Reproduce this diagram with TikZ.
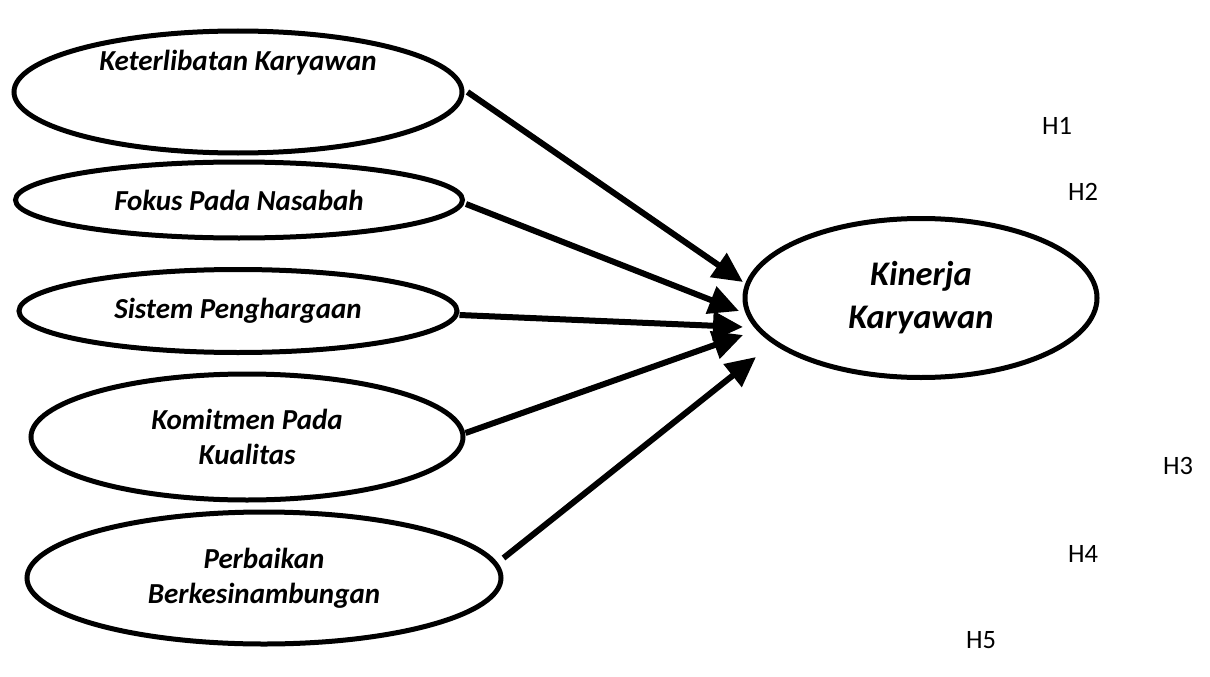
\documentclass[tikz,border=0pt]{standalone}
\usepackage{fontspec}
\setmainfont{Carlito}
\usetikzlibrary{shapes.geometric,arrows.meta}
\tikzset{
  varell/.style={ellipse, draw=black, line width=5pt, inner sep=0pt, align=center,
    font=\fontsize{29}{35}\selectfont\bfseries\itshape},
  bigell/.style={ellipse, draw=black, line width=5pt, inner sep=0pt, align=center,
    font=\fontsize{34.5}{43}\selectfont\bfseries\itshape},
  varlabel/.style={inner sep=0pt, font=\fontsize{29}{35}\selectfont\bfseries\itshape},
  hyp/.style={inner sep=0pt, font=\fontsize{26.5}{30}\selectfont},
  link/.style={line width=6pt, -{Triangle[length=30pt,width=28pt]}}
}
\begin{document}
\begin{tikzpicture}[x=1pt,y=-1pt]
\useasboundingbox (0,0) rectangle (1210,677);
% exogenous variables
\node[varell, minimum width=448pt, minimum height=122pt] (e1) at (238,92) {};
\node[varlabel] (l1) at (238,63) {Keterlibatan Karyawan};
\node[varell, minimum width=447pt, minimum height=76pt] (e2) at (239,200) {Fokus Pada Nasabah};
\node[varell, minimum width=438pt, minimum height=83pt] (e3) at (238,311) {Sistem Penghargaan};
\node[varell, minimum width=432pt, minimum height=126pt] (e4) at (247,437) {Komitmen Pada\\Kualitas};
\node[varell, minimum width=474pt, minimum height=132pt] (e5) at (264,578) {Perbaikan\\Berkesinambungan};
% endogenous variable
\node[bigell, minimum width=352pt, minimum height=159pt] (k) at (921,298) {Kinerja\\Karyawan};
% arrow tips
\coordinate (t1) at (743,282);
\coordinate (t2) at (739,311);
\coordinate (t3) at (743,327);
\coordinate (t4) at (743,335);
\coordinate (t5) at (756,357);
\draw[link] ([xshift=3pt]e1.east) -- (t1);
\draw[link] ([xshift=1pt,yshift=-4pt]e2.east) -- (t2);
\draw[link] ([yshift=-4pt]e3.east) -- (t3);
\draw[link] ([yshift=4pt]e4.east) -- (t4);
\draw[link] ([yshift=20pt]e5.east) -- (t5);
% hypothesis labels
\node[hyp] (h1) at (1057,126) {H1};
\node[hyp] (h2) at (1083,192) {H2};
\node[hyp] (h3) at (1178,466) {H3};
\node[hyp] (h4) at (1083,554) {H4};
\node[hyp] (h5) at (981,640) {H5};
\end{tikzpicture}
\end{document}
